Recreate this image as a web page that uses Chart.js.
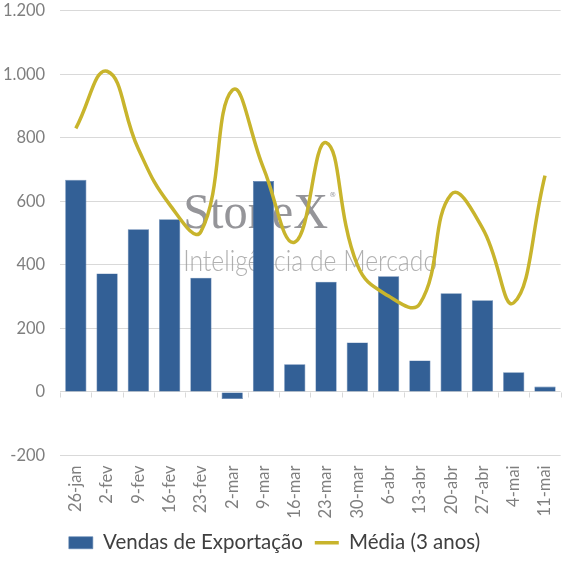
<!DOCTYPE html>
<html>
<head>
<meta charset="utf-8">
<script src="https://cdn.jsdelivr.net/npm/chart.js@4.4.1/dist/chart.umd.min.js"></script>
<style>
    html, body { margin: 0; padding: 0; background: #fff; overflow: hidden; }
    #outer { width: 567px; height: 567px; position: relative; overflow: hidden; }
    #wrap { position: absolute; left: -5px; top: -14px; width: 572px; height: 583px; }
</style>
</head>
<body>
<div id="outer"><div id="wrap"><canvas id="chart"></canvas></div></div>
<script>
// Semanas (eixo x)
const semanas = ['26-jan', '2-fev', '9-fev', '16-fev', '23-fev', '2-mar', '9-mar', '16-mar',
    '23-mar', '30-mar', '6-abr', '13-abr', '20-abr', '27-abr', '4-mai', '11-mai'];

// Vendas de exportação (barras)
const vendas = [668, 373, 512, 544, 360, -22, 664, 87, 347, 156, 364, 99, 311, 289, 62, 17];

// Média de 3 anos (linha)
const media = [830, 1010, 765, 590, 505, 950, 705, 472, 785, 400, 302, 278, 622, 516, 281, 681];

// Marcas do eixo y
const yTicks = [-200, 0, 200, 400, 600, 800, 1000, 1200];

const fmt = v => String(v).replace(/\B(?=(\d{3})+(?!\d))/g, '.');

// marca d'água + pequenos traços do eixo na linha do zero
const extras = {
    id: 'extras',
    beforeDatasetsDraw(chart) {
        const { ctx, chartArea, scales } = chart;
        const x = chartArea.left + 123;
        ctx.save();
        ctx.fillStyle = 'rgba(138,138,142,0.9)';
        ctx.textBaseline = 'alphabetic';
        ctx.font = '50px "Liberation Serif", serif';
        ctx.fillText('StoneX', x, chartArea.top + 217, 145);
        ctx.font = '7px "DejaVu Sans"';
        ctx.fillText('®', x + 146, chartArea.top + 186);
        ctx.fillStyle = 'rgba(150,150,150,0.75)';
        ctx.font = '300 29px Lato, "Open Sans", sans-serif';
        ctx.fillText('Inteligência de Mercado', x, chartArea.top + 260, 254);

        const y0 = Math.round(scales.y.getPixelForValue(0)) + 0.5;
        ctx.strokeStyle = '#d9d9d9';
        ctx.lineWidth = 1;
        ctx.beginPath();
        for (let i = 0; i <= semanas.length; i++) {
            const px = Math.round(scales.x.getPixelForValue(i - 0.5)) + 0.5;
            ctx.moveTo(px, y0);
            ctx.lineTo(px, y0 + 5);
        }
        ctx.stroke();
        ctx.restore();
    }
};

document.addEventListener('DOMContentLoaded', () => {
    new Chart(document.getElementById('chart'), {
        data: {
            labels: semanas,
            datasets: [{
                type: 'line',
                label: 'Média (3 anos)',
                data: media,
                borderColor: '#C8B42C',
                backgroundColor: '#C8B42C',
                borderWidth: 3.5,
                tension: 0.45,
                pointRadius: 0,
                pointStyle: 'line',
                order: 0
            }, {
                type: 'bar',
                label: 'Vendas de Exportação',
                data: vendas,
                backgroundColor: '#336096',
                borderColor: '#5b7fae',
                borderWidth: 0.6,
                barPercentage: 0.68,
                categoryPercentage: 1,
                pointStyle: 'rect',
                order: 1
            }]
        },
        options: {
            responsive: true,
            maintainAspectRatio: false,
            animation: false,
            layout: { padding: { top: -9, right: 6, left: -7, bottom: 6 } },
            plugins: {
                tooltip: { enabled: false },
                legend: {
                    position: 'bottom',
                    reverse: true,
                    labels: {
                        usePointStyle: true,
                        pointStyleWidth: 24,
                        boxHeight: 12,
                        padding: 12,
                        color: '#404040',
                        font: { family: 'Lato, "Open Sans", sans-serif', size: 20.5 }
                    }
                }
            },
            scales: {
                x: {
                    grid: { display: false },
                    border: { display: false },
                    ticks: {
                        minRotation: 90,
                        maxRotation: 90,
                        autoSkip: false,
                        padding: 2,
                        color: '#7f7f7f',
                        font: { family: 'Lato, "Open Sans", sans-serif', size: 16.5 }
                    }
                },
                y: {
                    min: -200,
                    max: 1200,
                    afterBuildTicks: axis => { axis.ticks = yTicks.map(v => ({ value: v })); },
                    grid: { color: '#d9d9d9', drawTicks: false },
                    border: { display: false },
                    ticks: {
                        padding: 15,
                        color: '#7f7f7f',
                        font: { family: 'Lato, "Open Sans", sans-serif', size: 16.5 },
                        callback: v => fmt(v)
                    }
                }
            }
        },
        plugins: [extras]
    });
});
</script>
</body>
</html>
